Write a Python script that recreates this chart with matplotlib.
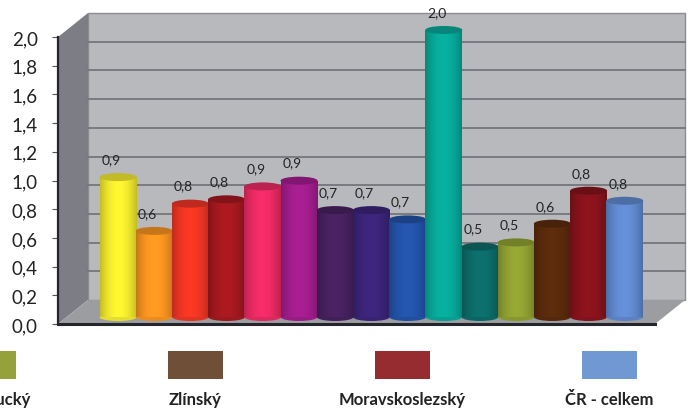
"""
Rate by region - 3D-look cylinder bar chart.
"""
import matplotlib
matplotlib.use("Agg")
import matplotlib.pyplot as plt
import numpy as np
from matplotlib.colors import to_rgb
from matplotlib.patches import Ellipse, Polygon, Rectangle

values = [0.975, 0.60, 0.79, 0.82, 0.91, 0.95, 0.745, 0.745, 0.68, 2.0, 0.49, 0.52, 0.65, 0.88, 0.81]
value_labels = ["0,9", "0,6", "0,8", "0,8", "0,9", "0,9", "0,7", "0,7", "0,7", "2,0", "0,5", "0,5", "0,6", "0,8", "0,8"]
bar_colors = ["#f2ea2e", "#f79320", "#ee3524", "#a3191f", "#ea2a63", "#a11d8c", "#47215f", "#3b2478",
              "#2353a8", "#07a898", "#0c6b68", "#8fa032", "#5a2a0c", "#86131c", "#6089ce"]
y_ticks = [0.0, 0.2, 0.4, 0.6, 0.8, 1.0, 1.2, 1.4, 1.6, 1.8, 2.0]
y_tick_labels = ["0,0", "0,2", "0,4", "0,6", "0,8", "1,0", "1,2", "1,4", "1,6", "1,8", "2,0"]
legend_names = ["Olomoucký", "Zlínský", "Moravskoslezský", "ČR - celkem"]
legend_colors = ["#95a23c", "#6f4f38", "#962b30", "#7099d4"]

W, H = 689, 414
fig = plt.figure(figsize=(W / 100, H / 100), dpi=100, facecolor="white")
ax = fig.add_axes([58 / W, (H - 325) / H, 597 / W, 287 / H])
ax.patch.set_visible(False)

x_step = 36.2   # px per category
y_unit = 143.5  # px per 1.0
ax.set_xlim((58 - 118) / x_step, (655 - 118) / x_step)
ax.set_ylim(0, 2)

# depth of the fake 3D box
dx = 30 / x_step
dy = 24 / y_unit
x0, x1 = ax.get_xlim()

ax.add_patch(Polygon([(x0 + dx, dy), (x1 + dx, dy), (x1 + dx, 2 + dy), (x0 + dx, 2 + dy)],
                     fc="#b7b9bd", ec="#8b8d91", lw=1, clip_on=False, zorder=1))
ax.add_patch(Polygon([(x0, 0), (x0 + dx, dy), (x0 + dx, 2 + dy), (x0, 2)],
                     fc="#7d7e85", ec="none", clip_on=False, zorder=1))
ax.add_patch(Polygon([(x0, 0), (x1, 0), (x1 + dx, dy), (x0 + dx, dy)],
                     fc="#9c9da1", ec="none", clip_on=False, zorder=1))
for tick in y_ticks[1:-1]:
    ax.plot([x0 + dx, x1 + dx], [tick + dy, tick + dy], color="#74767b", lw=1.3,
            clip_on=False, zorder=2)

# cylinders
xs = np.arange(len(values))
base = 7 / y_unit
bar_w = 37 / x_step
cap_h = 8 / y_unit
shade = 0.76 + 0.3 * np.sin(np.linspace(0.1, np.pi - 0.1, 48)) ** 0.8
bars = ax.bar(xs, values, width=bar_w, bottom=base, color=bar_colors, zorder=3)
for i, bar in enumerate(bars):
    rgb = np.array(to_rgb(bar_colors[i]))
    grad = np.clip(rgb[None, None, :] * shade[None, :, None], 0, 1)
    left, right = bar.get_x(), bar.get_x() + bar.get_width()
    z = 3 + i * 0.01
    bar.set_zorder(z)
    bar.set_clip_on(False)
    ax.add_patch(Ellipse((xs[i], base), bar_w, cap_h, fc=rgb * 0.95, ec="none", zorder=z, clip_on=False))
    im = ax.imshow(grad, extent=(left, right, base, base + values[i]), aspect="auto", zorder=z)
    im.set_clip_path(bar)
    ax.add_patch(Ellipse((xs[i], base + values[i]), bar_w, cap_h, fc=rgb * 0.8, ec="none", zorder=z, clip_on=False))
    ax.annotate(value_labels[i], (xs[i], base + values[i]), xytext=(-5, 13), textcoords="offset points",
                ha="center", va="center", fontsize=10, family="Lato",
                color="#222222", annotation_clip=False, zorder=6)

ax.set_xlim(x0, x1)
ax.set_ylim(0, 2)

ax.set_xticks([])
ax.set_yticks(y_ticks, y_tick_labels, fontsize=13.5, family="Lato", color="#222222")
ax.tick_params(axis="y", length=4.5, width=0.8, color="#555555", pad=10)
for side in ("top", "right"):
    ax.spines[side].set_visible(False)
ax.spines["left"].set_color("#25262b")
ax.spines["left"].set_linewidth(1.6)
ax.spines["bottom"].set_color("#25262b")
ax.spines["bottom"].set_linewidth(2.2)
ax.spines["left"].set_zorder(5)
ax.spines["bottom"].set_zorder(5)

# legend row, the first entry runs off the left edge
legend_centres = [-12, 195.5, 402.5, 609.5]
for name, col, cx in zip(legend_names, legend_colors, legend_centres):
    fig.add_artist(Rectangle(((cx - 27.5) / W, (H - 380) / H), 55 / W, 28 / H,
                             transform=fig.transFigure, fc=col, ec="none"))
    fig.text(cx / W, (H - 400) / H, name, ha="center", va="center", fontsize=12,
             family="Lato", weight="bold", color="#222222")

fig.savefig("out.png", dpi=100)
